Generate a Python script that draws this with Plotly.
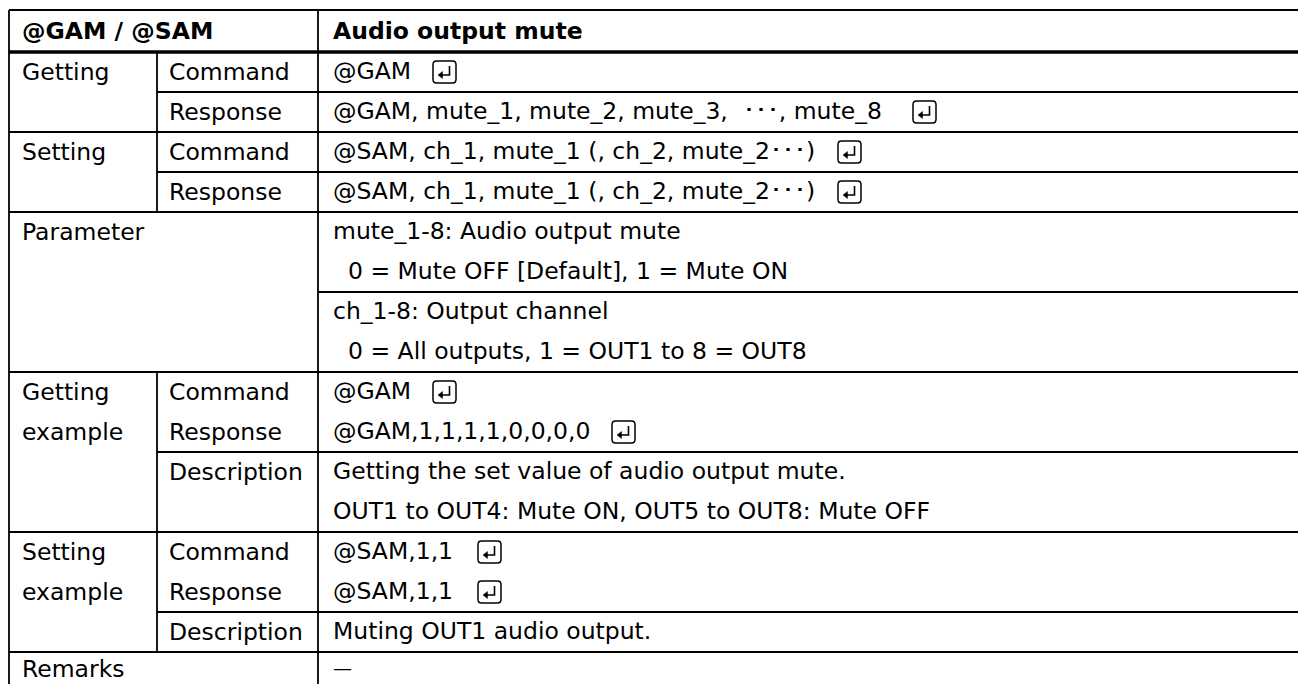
import plotly.graph_objects as go

# ---------------- data (table content) ----------------
header_left = "@GAM / @SAM"
header_right = "Audio output mute"

group_rows = [0, 2, 4, 8, 9, 12, 13, 15]
group_texts = ["Getting", "Setting", "Parameter", "Getting", "example",
               "Setting", "example", "Remarks"]

item_rows = [0, 1, 2, 3, 8, 9, 10, 12, 13, 14]
item_texts = ["Command", "Response", "Command", "Response", "Command",
              "Response", "Description", "Command", "Response", "Description"]

detail_rows = list(range(16))
detail_indent = [0, 0, 0, 0, 0, 1, 0, 1, 0, 0, 0, 0, 0, 0, 0, 0]
detail_texts = [
    "@GAM",
    "@GAM, mute_1, mute_2, mute_3,  ･･･, mute_8",
    "@SAM, ch_1, mute_1 (, ch_2, mute_2･･･)",
    "@SAM, ch_1, mute_1 (, ch_2, mute_2･･･)",
    "mute_1-8: Audio output mute",
    "0 = Mute OFF [Default], 1 = Mute ON",
    "ch_1-8: Output channel",
    "0 = All outputs, 1 = OUT1 to 8 = OUT8",
    "@GAM",
    "@GAM,1,1,1,1,0,0,0,0",
    "Getting the set value of audio output mute.",
    "OUT1 to OUT4: Mute ON, OUT5 to OUT8: Mute OFF",
    "@SAM,1,1",
    "@SAM,1,1",
    "Muting OUT1 audio output.",
    "—",
]

# rows whose command ends with an Enter-key symbol, and the symbol's left edge
enter_rows = [0, 1, 2, 3, 8, 9, 12, 13]
enter_x = [433, 913, 838, 838, 433, 612, 478, 478]

# ---------------- layout constants ----------------
PAGE_W, PAGE_H = 1306, 684
OFF = 8                         # default page margin of the html body
XE = [9, 157, 318, 1305]        # column edges (page pixels)
TOP = 10
HB = 52                         # header bottom
RH = 40                         # row height
NR = 16
BOTTOM = HB + NR * RH
FONT = "'DejaVu Sans', Arial, sans-serif"
FS = 23.5
THIN = 1.8
THICK = 3.6

def ry(k):
    return HB + k * RH

def rc(r):
    return HB + (r + 0.5) * RH - (3 if r == NR - 1 else 0)

shapes = []

def hline(y, x0, x1, w=THIN):
    shapes.append(dict(type="line", x0=x0, x1=x1, y0=y, y1=y, xref="x", yref="y",
                       line=dict(color="black", width=w)))

def vline(x, y0, y1, w=THIN):
    shapes.append(dict(type="line", x0=x, x1=x, y0=y0, y1=y1, xref="x", yref="y",
                       line=dict(color="black", width=w)))

# horizontal rules
hline(TOP, XE[0], XE[3])
for k in [2, 4, 8, 12, 15, 16]:
    hline(ry(k), XE[0], XE[3])
for k in [1, 3, 10, 14]:
    hline(ry(k), XE[1], XE[3])
hline(ry(6), XE[2], XE[3])
hline(ry(0), XE[0], XE[3], THICK)

# vertical rules
for x in [XE[0], XE[2], XE[3]]:
    vline(x, TOP, BOTTOM)
vline(XE[1], ry(0), ry(4))
vline(XE[1], ry(8), ry(15))

TX = [20, 167, 331]

# enter key symbols
for r, kx in zip(enter_rows, enter_x):
    cy = HB + (r + 0.5) * RH
    x0, x1, y0, y1 = kx, kx + 23, cy - 11, cy + 11
    q = 3.5
    path = (f"M {x0+q},{y0} L {x1-q},{y0} Q {x1},{y0} {x1},{y0+q} "
            f"L {x1},{y1-q} Q {x1},{y1} {x1-q},{y1} L {x0+q},{y1} "
            f"Q {x0},{y1} {x0},{y1-q} L {x0},{y0+q} Q {x0},{y0} {x0+q},{y0} Z")
    shapes.append(dict(type="path", path=path, xref="x", yref="y",
                       line=dict(color="black", width=1.5)))
    shapes.append(dict(type="path", xref="x", yref="y",
                       path=f"M {x0+16.5},{y0+5} L {x0+16.5},{y0+14} L {x0+8},{y0+14}",
                       line=dict(color="black", width=1.6)))
    shapes.append(dict(type="path", xref="x", yref="y",
                       path=f"M {x0+5},{y0+14} L {x0+9.5},{y0+10.5} L {x0+9.5},{y0+17.5} Z",
                       fillcolor="black", line=dict(color="black", width=0.5)))

annotations = []

def txt(x, y, s, bold=False, size=FS):
    annotations.append(dict(x=x, y=y, xref="x", yref="y", text=(f"<b>{s}</b>" if bold else s),
                            showarrow=False, xanchor="left", yanchor="middle",
                            font=dict(family=FONT, size=size, color="black")))

hy = (TOP + HB) / 2
txt(TX[0], hy, header_left, bold=True)
txt(TX[2], hy, header_right, bold=True)

for r, s in zip(group_rows, group_texts):
    txt(TX[0], rc(r), s)
for r, s in zip(item_rows, item_texts):
    txt(TX[1], rc(r), s)
for r, ind, s in zip(detail_rows, detail_indent, detail_texts):
    txt(TX[2] + 15 * ind, rc(r) - 1, s, size=(19 if s == "—" else FS))

fig = go.Figure()
fig.update_layout(
    width=PAGE_W - OFF, height=PAGE_H - OFF,
    margin=dict(l=0, r=0, t=0, b=0),
    paper_bgcolor="white", plot_bgcolor="white",
    xaxis=dict(range=[OFF, PAGE_W], visible=False, fixedrange=True),
    yaxis=dict(range=[PAGE_H, OFF], visible=False, fixedrange=True),
    shapes=shapes, annotations=annotations,
    showlegend=False,
)
fig.write_html("out.html", config={"displayModeBar": False})
